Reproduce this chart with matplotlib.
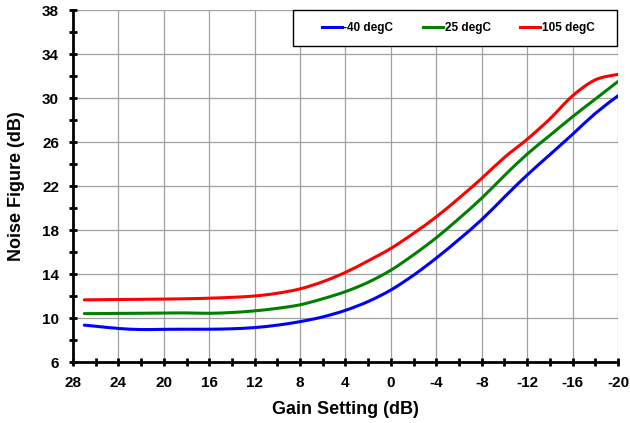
import numpy as np
import matplotlib.pyplot as plt
from matplotlib.path import Path
from matplotlib.patches import PathPatch, Rectangle
from matplotlib.lines import Line2D

plt.rcParams['font.family'] = ['Liberation Sans', 'DejaVu Sans']
plt.rcParams['font.weight'] = 'bold'
plt.rcParams['axes.unicode_minus'] = False

# gain setting (dB)
gain = [27, 26, 24, 22, 20, 18, 16, 14, 12, 10, 8, 6, 4, 2, 0,
        -2, -4, -6, -8, -10, -12, -14, -16, -18, -20]

nf_m40 = [9.35, 9.25, 9.05, 8.95, 8.97, 8.98, 8.98, 9.02, 9.13, 9.35, 9.67, 10.1, 10.7, 11.5, 12.55,
          13.9, 15.45, 17.15, 18.95, 21.0, 23.0, 24.85, 26.7, 28.6, 30.2]
nf_25 = [10.4, 10.4, 10.42, 10.43, 10.45, 10.46, 10.43, 10.5, 10.65, 10.88, 11.2, 11.75, 12.4, 13.25, 14.35,
         15.75, 17.3, 19.05, 20.9, 22.95, 24.9, 26.6, 28.3, 29.9, 31.5]
nf_105 = [11.65, 11.66, 11.68, 11.7, 11.72, 11.75, 11.8, 11.88, 12.0, 12.25, 12.65, 13.3, 14.15, 15.2, 16.33,
          17.7, 19.2, 20.9, 22.7, 24.6, 26.25, 28.1, 30.2, 31.65, 32.15]

labels = ['-40 degC', '25 degC', '105 degC']
colors = ['#0000ff', '#008000', '#ff0000']

x_ticks = np.arange(28, -21, -4)
y_ticks = np.arange(6, 39, 4)


def smooth_path(x, y):
    # Catmull-Rom through the points, written as cubic Bezier segments (like Excel's smoothed line)
    x = np.asarray(x, float)
    y = np.asarray(y, float)
    verts = [(x[0], y[0])]
    codes = [Path.MOVETO]
    n = len(x)
    for i in range(n - 1):
        x0, y0 = (x[i - 1], y[i - 1]) if i > 0 else (x[i], y[i])
        x3, y3 = (x[i + 2], y[i + 2]) if i + 2 < n else (x[i + 1], y[i + 1])
        c1 = (x[i] + (x[i + 1] - x0) / 6, y[i] + (y[i + 1] - y0) / 6)
        c2 = (x[i + 1] - (x3 - x[i]) / 6, y[i + 1] - (y3 - y[i]) / 6)
        verts += [c1, c2, (x[i + 1], y[i + 1])]
        codes += [Path.CURVE4] * 3
    return Path(verts, codes)


fig = plt.figure(figsize=(6.3, 4.23), dpi=100)
ax = fig.add_axes([73 / 630, 61 / 423, 545 / 630, 352 / 423])

handles = []
for y, c, lab in zip([nf_m40, nf_25, nf_105], colors, labels):
    ax.add_patch(PathPatch(smooth_path(gain, y), fill=False, edgecolor=c, lw=2.2,
                           capstyle='round', zorder=3))
    handles.append(Line2D([], [], color=c, lw=2.2, label=lab))

ax.set_xlim(28, -20)
ax.set_ylim(6, 38)
ax.set_xticks(x_ticks)
ax.set_xticks(np.arange(28, -21, -2), minor=True)
ax.set_yticks(y_ticks)
ax.set_yticks(np.arange(6, 39, 2), minor=True)

ax.grid(which='major', color='#a0a0a0', lw=0.9)
ax.set_axisbelow(True)
for s in ['top', 'right']:
    ax.spines[s].set_visible(False)
for s in ['left', 'bottom']:
    ax.spines[s].set_linewidth(2.0)
    ax.spines[s].set_zorder(4)
ax.tick_params(which='both', direction='inout', length=6, width=2.0, labelsize=11)
ax.tick_params(axis='x', which='major', pad=7)
ax.tick_params(axis='y', which='major', pad=7)
for lbl in ax.get_xticklabels() + ax.get_yticklabels():
    lbl.set_fontweight('bold')

ax.set_xlabel('Gain Setting (dB)', fontsize=13, fontweight='bold', labelpad=8)
ax.set_ylabel('Noise Figure (dB)', fontsize=13, fontweight='bold', labelpad=12)

# legend box sits on top of the plot area
bx0, bw, bh = (293 - 73) / 545, 324 / 545, 36 / 352
ax.add_patch(Rectangle((bx0, 1 - bh), bw, bh, transform=ax.transAxes, facecolor='white',
                       edgecolor='black', lw=1.0, zorder=5, clip_on=False))
leg = ax.legend(handles=handles, loc='center', ncol=3,
                bbox_to_anchor=(bx0 + bw / 2 + 0.006, 1 - bh / 2),
                fontsize=8.5, frameon=False, handlelength=1.7, handletextpad=0.15,
                columnspacing=2.5, borderaxespad=0)
leg.set_zorder(6)
for t in leg.get_texts():
    t.set_fontweight('bold')

fig.savefig('out.png', dpi=100)
